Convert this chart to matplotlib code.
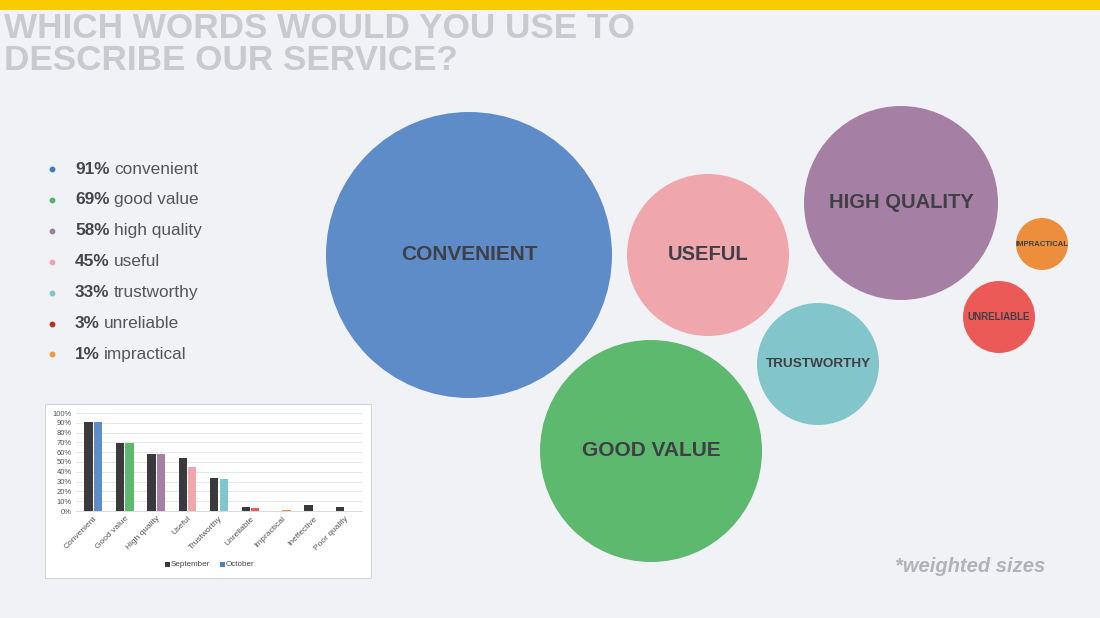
import numpy as np
import matplotlib.pyplot as plt
from matplotlib.patches import Circle, Rectangle

# bubble words and their share of answers (October)
words = ['CONVENIENT', 'GOOD VALUE', 'HIGH QUALITY', 'USEFUL', 'TRUSTWORTHY', 'UNRELIABLE', 'IMPRACTICAL']
share = [91, 69, 58, 45, 33, 3, 1]
list_labels = ['convenient', 'good value', 'high quality', 'useful', 'trustworthy', 'unreliable', 'impractical']

# small comparison chart
categories = ['Convenient', 'Good value', 'High quality', 'Useful', 'Trustworthy',
              'Unreliable', 'Impractical', 'Ineffective', 'Poor quality']
september = [91, 69, 58, 54, 34, 4, 0, 6, 4]
october = [91, 69, 58, 45, 33, 3, 1, 0, 0]

# layout of the bubbles (pixels) - sizes are weighted, not proportional
bx = [469, 651, 901, 708, 818, 999, 1042]
by = [255, 451, 203, 255, 364, 317, 244]
br = [143, 111, 97, 81, 61, 36, 26]
bfont = [15, 15, 14.5, 14.5, 9.7, 7, 5.6]
bcolors = ['#5E8CC9', '#5DB96E', '#A67FA4', '#F0A6AD', '#82C5CA', '#EC5A58', '#EC8E3C']
dot_colors = ['#3A7DB8', '#4FB56A', '#9A8298', '#EBA6B4', '#7CC6CB', '#B8301E', '#EE9A3A']

bg = '#F1F2F6'
dark = '#3F3F46'
font = 'Liberation Sans'

fig = plt.figure(figsize=(11, 6.18), dpi=100, facecolor=bg)
ax = fig.add_axes([0, 0, 1, 1])
ax.set_xlim(0, 1100)
ax.set_ylim(618, 0)
ax.axis('off')
ax.set_facecolor(bg)

# yellow strip on top
ax.add_patch(Rectangle((0, 0), 1100, 10, color='#F8CC00', lw=0))

ax.text(4, 29, 'WHICH WORDS WOULD YOU USE TO', fontsize=25.3, fontweight='bold',
        color='#C9CACF', family=font, va='center', ha='left')
ax.text(4, 61, 'DESCRIBE OUR SERVICE?', fontsize=25.3, fontweight='bold',
        color='#C9CACF', family=font, va='center', ha='left')

# bubbles
for w, x, y, r, c, fs in zip(words, bx, by, br, bcolors, bfont):
    ax.add_patch(Circle((x, y), r, color=c, lw=0))
    ax.text(x, y, w, fontsize=fs, fontweight='bold', color=dark,
            ha='center', va='center', family=font)

# percentage list
fig.canvas.draw()
for i, (s, lab, dc) in enumerate(zip(share, list_labels, dot_colors)):
    y = 169 + i * 30.9
    ax.plot(52, y, 'o', color=dc, ms=3.2)
    t = ax.text(75, y, f'{s}%', fontsize=12.4, fontweight='bold', color='#45454C',
                va='center', ha='left', family=font)
    bb = t.get_window_extent(renderer=fig.canvas.get_renderer())
    fig.text(bb.x1 / 1100 + 0.004, 1 - y / 618, lab, fontsize=12.4, color='#55555C',
             va='center', ha='left', family=font)

ax.text(970, 566, '*weighted sizes', fontsize=14.5, fontweight='bold', style='italic',
        color='#B2B3B8', ha='center', va='center', family=font)

# inset box
ax.add_patch(Rectangle((45, 404), 326, 174, facecolor='white', edgecolor='#D6D6D6', lw=0.8))

iax = fig.add_axes([76 / 1100, (618 - 511) / 618, (362 - 76) / 1100, (511 - 413) / 618])
iax.set_facecolor('white')
xs = np.arange(len(categories))
w = 0.26
iax.bar(xs - 0.15, september, width=w, color='#3A3A3C', label='September')
iax.bar(xs + 0.15, october, width=w, color=bcolors + ['#888888', '#888888'], label='October')
iax.set_ylim(0, 100)
iax.set_xlim(-0.55, len(categories) - 0.45)
iax.set_yticks(range(0, 101, 10))
iax.set_yticklabels([f'{v}%' for v in range(0, 101, 10)], fontsize=5.5, color='#555555',
                    family=font)
iax.set_xticks(xs)
iax.set_xticklabels(categories, rotation=45, ha='right', fontsize=6, color='#555555',
                    rotation_mode='anchor', family=font)
iax.tick_params(length=0, pad=3)
iax.grid(axis='y', color='#DDDDDD', lw=0.5)
iax.set_axisbelow(True)
for sp in ['top', 'right', 'left']:
    iax.spines[sp].set_visible(False)
iax.spines['bottom'].set_color('#CCCCCC')
iax.spines['bottom'].set_linewidth(0.5)

# legend
ax.add_patch(Rectangle((165, 562), 5, 5, color='#3A3A3C', lw=0))
ax.text(171, 565, 'September', fontsize=5.8, color='#444444', va='center', ha='left', family=font)
ax.add_patch(Rectangle((220, 562), 5, 5, color='#4A7EC6', lw=0))
ax.text(226, 565, 'October', fontsize=5.8, color='#444444', va='center', ha='left', family=font)

fig.savefig('out.png', dpi=100, facecolor=bg)
